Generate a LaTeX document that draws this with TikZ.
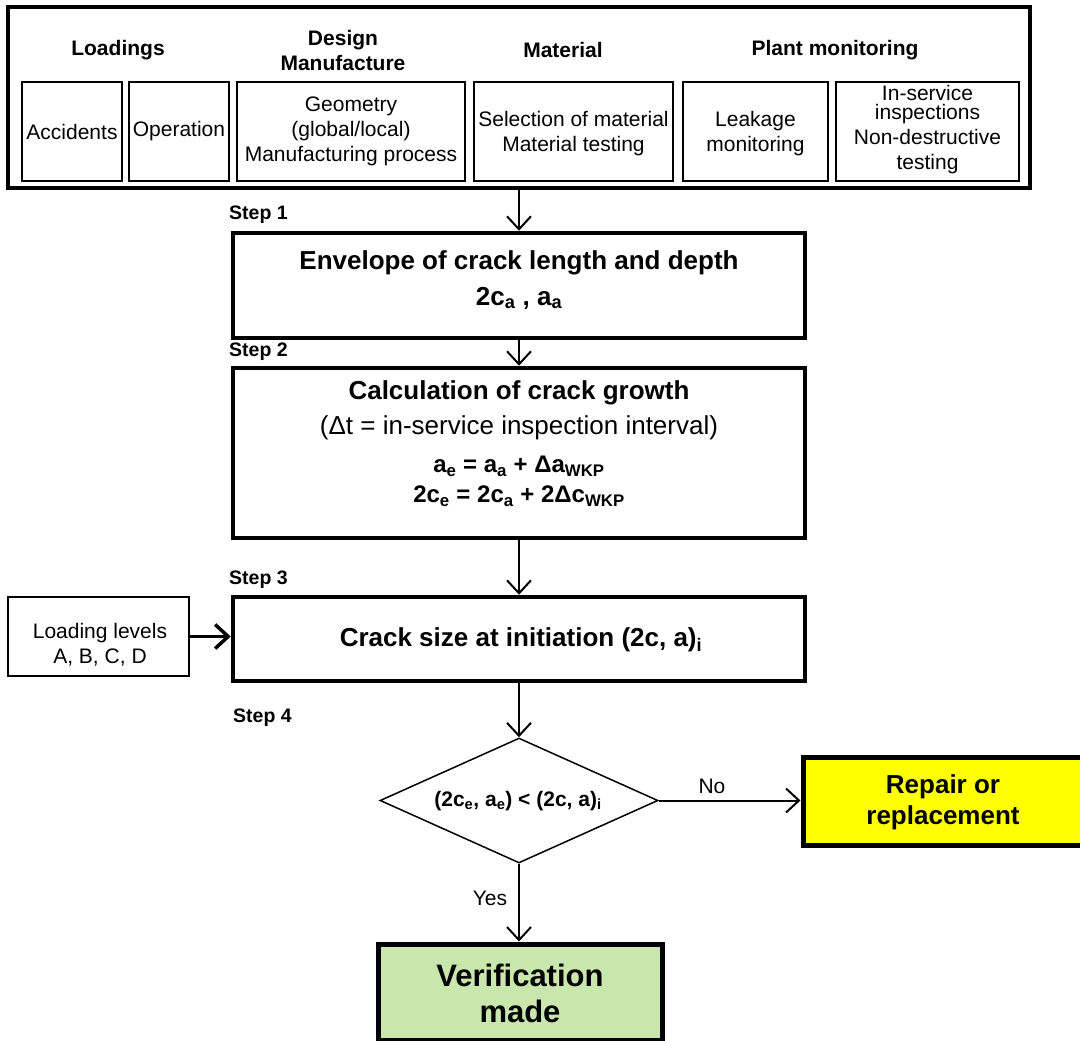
\documentclass[tikz,border=0pt]{standalone}
\usepackage{fontspec}
\setmainfont{Liberation Sans}
\usetikzlibrary{arrows.meta,shapes.geometric}
\definecolor{vgreen}{RGB}{201,231,172}
\definecolor{ryellow}{RGB}{255,255,0}
\newcommand\sbs[1]{\textsubscript{#1}}
\begin{document}
\begin{tikzpicture}[x=1pt,y=-1pt,
  thickbox/.style={draw,line width=4.5pt,inner sep=0pt},
  thinbox/.style={draw,line width=1.5pt,inner sep=0pt},
  arr/.style={line width=2pt,-{Straight Barb[length=13pt,width=24pt]}},
  hd/.style={font=\fontsize{21}{25}\selectfont\bfseries,align=center,inner sep=0pt},
  itm/.style={font=\fontsize{21}{25}\selectfont,align=center,inner sep=0pt},
  steplbl/.style={font=\fontsize{19.5}{23}\selectfont\bfseries,anchor=west,inner sep=0pt},
  main/.style={font=\fontsize{26}{31}\selectfont\bfseries,align=center,inner sep=0pt},
  mainr/.style={font=\fontsize{26}{31}\selectfont,align=center,inner sep=0pt},
  eq/.style={font=\fontsize{24}{28}\selectfont\bfseries,align=center,inner sep=0pt}]
\clip (0,0) rectangle (1080,1041);
\useasboundingbox (0,0) rectangle (1080,1041);
% top box
\node[thickbox,minimum width=1022pt,minimum height=181pt] (top) at (519,97.5) {};
\node[hd] (hload) at (118,50) {Loadings};
\node[hd] (hdes) at (343,50) {Design\\Manufacture};
\node[hd] (hmat) at (563,50) {Material};
\node[hd] (hplant) at (835,50) {Plant monitoring};
\node[thinbox,minimum width=100pt,minimum height=99pt] (acc) at (72,131.5) {};
\node[thinbox,minimum width=100pt,minimum height=99pt] (op) at (179,131.5) {};
\node[thinbox,minimum width=228pt,minimum height=99pt] (geo) at (351,131.5) {};
\node[thinbox,minimum width=199pt,minimum height=99pt] (sel) at (573.5,131.5) {};
\node[thinbox,minimum width=145pt,minimum height=99pt] (leak) at (755.5,131.5) {};
\node[thinbox,minimum width=183pt,minimum height=99pt] (isi) at (927.5,131.5) {};
\node[itm] (tacc) at (acc.center) {Accidents};
\node[itm] (top2) at (op.center) {Operation};
\node[itm] (tgeo) at (geo.center) {Geometry\\(global/local)\\Manufacturing process};
\node[itm] (tsel) at ([yshift=-2pt]sel.center) {Selection of material\\Material testing};
\node[itm] (tleak) at ([yshift=-2pt]leak.center) {Leakage\\monitoring};
\node[itm] (tisi) at ([yshift=2pt]isi.center) {In-service\\[-6pt]inspections\\Non-destructive\\testing};
% step 1
\node[steplbl] (s1) at (229,215) {Step 1};
\node[thickbox,minimum width=572pt,minimum height=105pt] (env) at (519,285.5) {};
\node[main] (env1) at (519,263) {Envelope of crack length and depth};
\node[main] (env2) at (519,298) {2c\sbs{a} , a\sbs{a}};
% step 2
\node[steplbl] (s2) at (229,352) {Step 2};
\node[thickbox,minimum width=572pt,minimum height=170pt] (calc) at (519,453) {};
\node[main] (calc1) at (519,393) {Calculation of crack growth};
\node[mainr] (calc2) at (519,428) {(Δt = in-service inspection interval)};
\node[eq] (calc3) at (519,466) {a\sbs{e} = a\sbs{a} + Δa\sbs{WKP}};
\node[eq] (calc4) at (519,496) {2c\sbs{e} = 2c\sbs{a} + 2Δc\sbs{WKP}};
% step 3
\node[steplbl] (s3) at (229,580) {Step 3};
\node[thickbox,minimum width=572pt,minimum height=84pt] (crack) at (519,639) {};
\node[main] (crack1) at (521,640) {Crack size at initiation (2c, a)\sbs{i}};
\node[thinbox,minimum width=181pt,minimum height=79pt] (load) at (98.5,636.5) {};
\node[itm] (load1) at (100,645) {Loading levels\\A, B, C, D};
% step 4
\node[steplbl] (s4) at (233,718) {Step 4};
\node[diamond,draw,line width=1.5pt,minimum width=278pt,minimum height=125pt,inner sep=0pt] (dia) at (519,800.5) {};
\node[font=\fontsize{21}{25}\selectfont\bfseries,inner sep=0pt] (diat) at (518,801) {(2c\sbs{e}, a\sbs{e}) < (2c, a)\sbs{i}};
\node[thickbox,line width=5pt,fill=ryellow,minimum width=280pt,minimum height=88pt] (rep) at (943,801) {};
\node[main] (rep1) at (943,802) {Repair or\\replacement};
\node[thickbox,line width=5pt,fill=vgreen,minimum width=284pt,minimum height=96pt] (ver) at (520,992) {};
\node[font=\fontsize{31}{36}\selectfont\bfseries,align=center,inner sep=0pt] (ver1) at (520,993) {Verification\\made};
\node[itm] (no) at (712,786) {No};
\node[itm] (yes) at (490,898) {Yes};
% connectors
\draw[arr] (top.south) -- (env.north);
\draw[arr] (env.south) -- (calc.north);
\draw[arr] (calc.south) -- (crack.north);
\draw[arr,line width=3.5pt] (load.east) -- (load.east -| crack.west);
\draw[arr] (crack.south) -- (dia.north);
\draw[arr] (dia.east) -- (dia.east -| rep.west);
\draw[arr] (dia.south) -- (dia.south |- ver.north);
\end{tikzpicture}
\end{document}
